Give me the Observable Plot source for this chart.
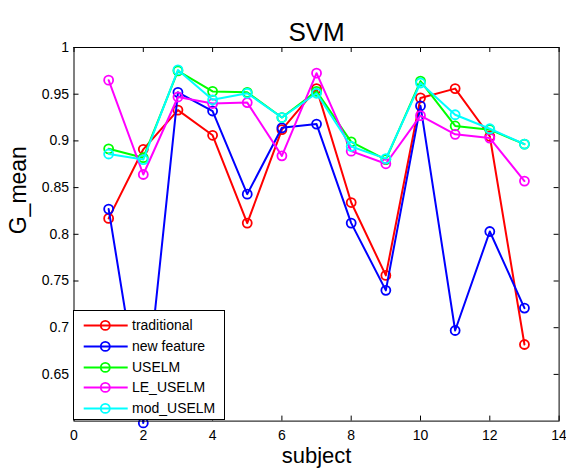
<!DOCTYPE html>
<html>
<head>
<meta charset="utf-8">
<script src="https://cdn.jsdelivr.net/npm/d3@7"></script>
<script src="https://cdn.jsdelivr.net/npm/@observablehq/plot@0.6"></script>
<style>
  html, body { margin: 0; padding: 0; background: white; }
  #wrap { position: relative; width: 566px; height: 472px; font-family: "Liberation Sans", Arial, sans-serif; }
  #legend { position: absolute; left: 73px; top: 310px; width: 152px; height: 110px; box-sizing: border-box;
            border: 1px solid black; background: white; padding-top: 4px; }
  .row { position: relative; height: 20.8px; }
  .row svg { position: absolute; left: 0; top: 0; }
  .row span { position: absolute; left: 58px; top: 0; line-height: 20.8px; font-size: 14px; color: black; white-space: nowrap; }
</style>
</head>
<body>
<div id="wrap"></div>
<script>
const subjects = [1, 2, 3, 4, 5, 6, 7, 8, 9, 10, 11, 12, 13];
const traditional = [0.817, 0.891, 0.933, 0.906, 0.812, 0.912, 0.956, 0.834, 0.756, 0.946, 0.956, 0.905, 0.682];
const newFeature  = [0.827, 0.598, 0.952, 0.932, 0.843, 0.914, 0.918, 0.812, 0.740, 0.9375, 0.697, 0.803, 0.721];
const USELM       = [0.8915, 0.882, 0.975, 0.953, 0.952, 0.925, 0.953, 0.899, 0.880, 0.964, 0.916, 0.912, 0.8965];
const LE_USELM    = [0.965, 0.864, 0.947, 0.940, 0.941, 0.884, 0.9725, 0.889, 0.8755, 0.927, 0.907, 0.903, 0.857];
const mod_USELM   = [0.886, 0.880, 0.976, 0.944, 0.951, 0.925, 0.951, 0.894, 0.881, 0.962, 0.928, 0.913, 0.8965];

const seriesNames = ["traditional", "new feature", "USELM", "LE_USELM", "mod_USELM"];
const seriesValues = [traditional, newFeature, USELM, LE_USELM, mod_USELM];
const seriesColors = ["#ff0000", "#0000ff", "#00ff00", "#ff00ff", "#00ffff"];

const xTicks = [0, 2, 4, 6, 8, 10, 12, 14];
const yTicks = [0.65, 0.7, 0.75, 0.8, 0.85, 0.9, 0.95, 1];

const W = 566, H = 472;
const mL = 73.5, mR = 7.4, mT = 47, mB = 51.4;
const pw = W - mL - mR, ph = H - mT - mB;
const T = 5;

const seriesMarks = [];
seriesValues.forEach((vals, k) => {
  const data = subjects.map((s, i) => ({x: s, y: vals[i]}));
  seriesMarks.push(Plot.line(data, {x: "x", y: "y", stroke: seriesColors[k], strokeWidth: 2}));
  seriesMarks.push(Plot.dot(data, {x: "x", y: "y", r: 4.5, stroke: seriesColors[k], strokeWidth: 1.8, fill: "none"}));
});

const chart = Plot.plot({
  width: W, height: H,
  marginLeft: mL, marginRight: mR, marginTop: mT, marginBottom: mB,
  style: {fontFamily: "'Liberation Sans', Arial, sans-serif", fontSize: "14px", background: "white", color: "black"},
  x: {domain: [0, 14]},
  y: {domain: [0.6, 1]},
  marks: [
    ...seriesMarks,
    Plot.frame({stroke: "black", strokeWidth: 1}),
    Plot.tickX(xTicks, {x: d => d, insetTop: ph - T, stroke: "black"}),
    Plot.tickX(xTicks, {x: d => d, insetBottom: ph - T, stroke: "black"}),
    Plot.tickY(yTicks, {y: d => d, insetRight: pw - T, stroke: "black"}),
    Plot.tickY(yTicks, {y: d => d, insetLeft: pw - T, stroke: "black"}),
    Plot.axisX(xTicks, {tickSize: 0, tickPadding: 9, tickFormat: d => String(d), label: null, fontSize: 14}),
    Plot.axisY(yTicks, {tickSize: 0, tickPadding: 5, tickFormat: d => String(+d.toFixed(2)), label: null, fontSize: 14}),
    Plot.text(["SVM"], {text: d => d, frameAnchor: "top", dy: -25, fontSize: 26, fill: "black"}),
    Plot.text(["subject"], {text: d => d, frameAnchor: "bottom", dy: 42, fontSize: 22, fill: "black"}),
    Plot.text(["G_mean"], {text: d => d, frameAnchor: "left", dx: -55, rotate: -90, fontSize: 23, fill: "black"})
  ]
});

const wrap = document.getElementById("wrap");
wrap.appendChild(chart);

const legend = document.createElement("div");
legend.id = "legend";
seriesNames.forEach((name, k) => {
  const row = document.createElement("div");
  row.className = "row";
  row.innerHTML = `<svg width="58" height="20.8"><line x1="9.7" x2="53.7" y1="10.4" y2="10.4" stroke="${seriesColors[k]}" stroke-width="2"/><circle cx="31.3" cy="10.4" r="4.5" fill="none" stroke="${seriesColors[k]}" stroke-width="1.8"/></svg><span>${name}</span>`;
  legend.appendChild(row);
});
wrap.appendChild(legend);
</script>
</body>
</html>
